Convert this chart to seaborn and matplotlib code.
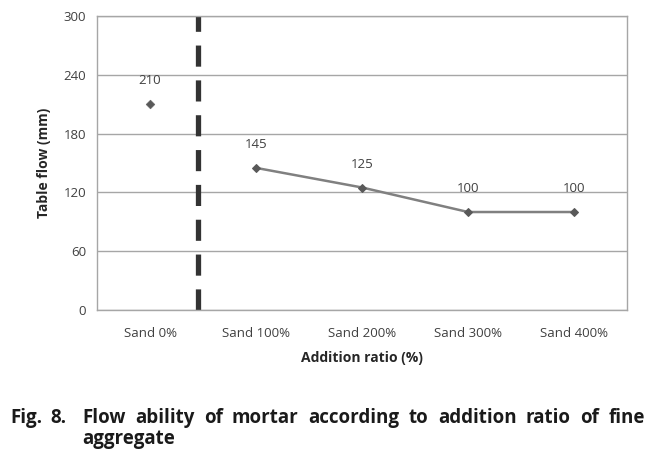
import matplotlib
matplotlib.use("Agg")
import matplotlib.pyplot as plt
import seaborn as sns
import pandas as pd

# Values
categories = ["Sand 0%", "Sand 100%", "Sand 200%", "Sand 300%", "Sand 400%"]
flow_values = [210, 145, 125, 100, 100]
y_ticks = [0, 60, 120, 180, 240, 300]
caption_line1 = "Flow ability of mortar according to addition ratio of fine"
caption_line2 = "aggregate"

sns.set_theme(style="white")
plt.rcParams["font.family"] = ["Open Sans", "DejaVu Sans"]

df = pd.DataFrame({"ratio": categories, "flow": flow_values})
ref = df.iloc[:1]
mix = df.iloc[1:]

W, H = 665, 454
fig = plt.figure(figsize=(6.65, 4.54), dpi=100)
ax = fig.add_axes([0.146, 0.317, 0.797, 0.648])

# single reference point (no line)
sns.scatterplot(data=ref, x="ratio", y="flow", marker="D", s=20,
                color="#595959", edgecolor="#595959", ax=ax, zorder=3)
# connected series
sns.lineplot(data=mix, x="ratio", y="flow", color="#808080", linewidth=1.8,
             marker="D", markersize=4.5, markerfacecolor="#595959",
             markeredgecolor="#595959", ax=ax, zorder=3, sort=False)

for i, v in enumerate(flow_values):
    ax.annotate(str(v), (i, v), xytext=(0, 12), textcoords="offset points",
                ha="center", va="bottom", fontsize=9.5, color="#404040")

# dashed separator between reference and mixtures
ax.axvline(0.45, color="#333333", linewidth=3.8, dashes=(4, 2.6), zorder=2)

ax.set_xlim(-0.5, len(categories) - 0.5)
ax.set_ylim(0, 300)
ax.set_yticks(y_ticks)
ax.yaxis.grid(True, color="#a6a6a6", linewidth=1.0)
ax.set_axisbelow(True)
for sp in ax.spines.values():
    sp.set_color("#a6a6a6")
    sp.set_linewidth(1.0)
ax.tick_params(axis="both", length=0, labelsize=9.5, colors="#404040", pad=8)
ax.tick_params(axis="x", pad=12)

ax.set_xlabel("Addition ratio (%)", fontsize=10, fontweight="bold",
              color="#262626", labelpad=8)
ax.set_ylabel("Table flow (mm)", fontsize=10, fontweight="bold",
              color="#262626", labelpad=9)

# caption, justified like the journal layout
cap = dict(fontsize=13.5, fontweight="bold", color="#1a1a1a", va="baseline")
y1, y2 = 1 - 423 / H, 1 - 444 / H
fig.text(10 / W, y1, "Fig.", **cap)
fig.text(50 / W, y1, "8.", **cap)
renderer = fig.canvas.get_renderer()
words = caption_line1.split()
texts = [fig.text(0, y1, w, **cap) for w in words]
widths = [t.get_window_extent(renderer).width for t in texts]
left, right = 82, 645
gap = (right - left - sum(widths)) / (len(words) - 1)
xpos = left
for t, wd in zip(texts, widths):
    t.set_x(xpos / W)
    xpos += wd + gap
fig.text(left / W, y2, caption_line2, **cap)

fig.savefig("out.png", dpi=100)
